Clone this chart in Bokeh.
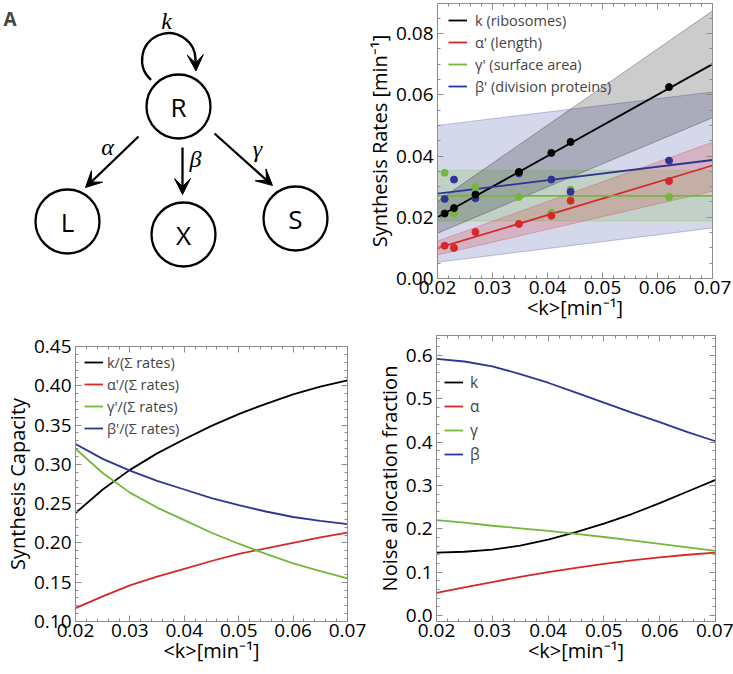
import numpy as np
from bokeh.plotting import figure
from bokeh.layouts import column, row
from bokeh.models import (Range1d, LinearAxis, FixedTicker, NumeralTickFormatter,
                          Legend, LegendItem, Label, Arrow, VeeHead, ColumnDataSource)
from bokeh.core.properties import value
from bokeh.embed import file_html
from bokeh.resources import INLINE

# ---------------- data ----------------
# Panel A: diagram nodes (x, y) and arrows
node_names = ["R", "L", "X", "S"]
node_x = [178, 67, 183, 295]
node_y = [226, 111, 98, 114]
node_r = 32
rate_names = ["k", "α", "β", "γ"]
rate_lab_x = [166, 107, 195, 257]
rate_lab_y = [312, 186, 174, 184]
arrow_x0 = [138, 182, 214]
arrow_y0 = [196, 185, 199]
arrow_x1 = [85, 182, 272]
arrow_y1 = [145, 138, 147]
loop_cx, loop_cy, loop_r = 168.3, 272.6, 26.7
loop_start_deg, loop_end_deg = 0.0, 228.4

# Panel B: synthesis rates
k_mean = [0.0213, 0.0230, 0.0269, 0.0348, 0.0407, 0.0442, 0.0621]
rate_k = [0.0212, 0.0230, 0.0274, 0.0348, 0.0410, 0.0446, 0.0625]
rate_alpha = [0.0107, 0.0100, 0.0152, 0.0178, 0.0205, 0.0254, 0.0318]
rate_gamma = [0.0345, 0.0212, 0.0299, 0.0266, 0.0214, 0.0290, 0.0266]
rate_beta = [0.0260, 0.0323, 0.0262, 0.0343, 0.0323, 0.0283, 0.0385]
fit_x = [0.02, 0.07]
fit_k = [0.0200, 0.0700]
fit_k_lo = [0.0148, 0.0525]
fit_k_hi = [0.0252, 0.0874]
fit_alpha = [0.0099, 0.0369]
fit_alpha_lo = [0.0077, 0.0285]
fit_alpha_hi = [0.0122, 0.0445]
fit_gamma = [0.0270, 0.0270]
fit_gamma_lo = [0.0188, 0.0188]
fit_gamma_hi = [0.0353, 0.0353]
fit_beta = [0.0277, 0.0387]
fit_beta_lo = [0.0053, 0.0165]
fit_beta_hi = [0.0500, 0.0609]

# Panels C and D: model curves
kx = [0.020, 0.025, 0.030, 0.035, 0.040, 0.045, 0.050, 0.055, 0.060, 0.065, 0.070]
cap_k = [0.238, 0.268, 0.293, 0.314, 0.332, 0.349, 0.364, 0.377, 0.389, 0.399, 0.407]
cap_alpha = [0.117, 0.132, 0.146, 0.157, 0.167, 0.177, 0.186, 0.193, 0.200, 0.207, 0.213]
cap_gamma = [0.320, 0.289, 0.264, 0.245, 0.229, 0.213, 0.199, 0.186, 0.174, 0.164, 0.155]
cap_beta = [0.326, 0.307, 0.292, 0.279, 0.268, 0.257, 0.248, 0.240, 0.233, 0.228, 0.224]
noise_k = [0.145, 0.147, 0.152, 0.161, 0.175, 0.192, 0.212, 0.234, 0.259, 0.286, 0.313]
noise_alpha = [0.052, 0.065, 0.077, 0.089, 0.100, 0.110, 0.119, 0.127, 0.134, 0.140, 0.145]
noise_gamma = [0.220, 0.214, 0.207, 0.201, 0.195, 0.188, 0.181, 0.173, 0.165, 0.157, 0.149]
noise_beta = [0.592, 0.586, 0.575, 0.557, 0.537, 0.514, 0.491, 0.468, 0.446, 0.423, 0.402]

x_major = [0.02, 0.03, 0.04, 0.05, 0.06, 0.07]
x_minor = [round(0.02 + 0.002 * i, 3) for i in range(26)]
b_y_major = [0.00, 0.02, 0.04, 0.06, 0.08]
b_y_minor = [round(0.005 * i, 3) for i in range(18)]
c_y_major = [0.10, 0.15, 0.20, 0.25, 0.30, 0.35, 0.40, 0.45]
c_y_minor = [round(0.10 + 0.01 * i, 2) for i in range(36)]
d_y_major = [0.0, 0.1, 0.2, 0.3, 0.4, 0.5, 0.6]
d_y_minor = [round(0.02 * i, 2) for i in range(33)]

# ---------------- style ----------------
FONT = "Open Sans"
BLACK = "#000000"
RED = "#d4282a"
GREEN = "#74b83a"
BLUE = "#2d3594"
FRAME = "#8c8c8c"
XLABEL = "<k>[min⁻¹]"


def style_axis(ax, ticker, fmt=None, label=None, show_labels=True, horizontal=True):
    ax.ticker = ticker
    ax.axis_line_color = FRAME
    ax.major_tick_line_color = FRAME
    ax.minor_tick_line_color = FRAME
    ax.major_tick_in = 6
    ax.major_tick_out = 0
    ax.minor_tick_in = 3
    ax.minor_tick_out = 0
    if show_labels:
        ax.formatter = fmt
        ax.major_label_text_font = FONT
        ax.major_label_text_font_size = "19px"
        ax.major_label_text_color = "#000000"
        ax.major_label_standoff = 2 if horizontal else 4
        ax.axis_label = label
        ax.axis_label_text_font = FONT
        ax.axis_label_text_font_size = "20px"
        ax.axis_label_text_font_style = "normal"
        ax.axis_label_text_color = "#000000"
        ax.axis_label_standoff = -3 if horizontal else 0
    else:
        ax.major_label_text_font_size = "1px"
        ax.major_label_text_color = None
        ax.major_label_text_alpha = 0
        ax.major_label_standoff = 0


def make_plot(width, height, yr, mb, ymaj, ymin, yfmt, ylabel):
    p = figure(width=width, height=height, x_range=Range1d(0.02, 0.07), y_range=Range1d(*yr),
               output_backend="svg", toolbar_location=None,
               min_border_left=mb[0], min_border_right=mb[1],
               min_border_top=mb[2], min_border_bottom=mb[3])
    p.frame_align = False
    p.grid.visible = False
    p.outline_line_color = FRAME
    p.background_fill_color = "white"
    p.border_fill_color = "white"
    xt = FixedTicker(ticks=x_major, minor_ticks=x_minor)
    yt = FixedTicker(ticks=ymaj, minor_ticks=ymin)
    style_axis(p.xaxis[0], xt, NumeralTickFormatter(format="0.00"), XLABEL, horizontal=True)
    style_axis(p.yaxis[0], yt, NumeralTickFormatter(format=yfmt), ylabel, horizontal=False)
    top = LinearAxis()
    style_axis(top, FixedTicker(ticks=x_major, minor_ticks=x_minor), show_labels=False)
    right = LinearAxis()
    style_axis(right, FixedTicker(ticks=ymaj, minor_ticks=ymin), show_labels=False)
    p.add_layout(top, "above")
    p.add_layout(right, "right")
    return p


def add_legend(p, items, loc, font_size, standoff):
    leg = Legend(items=items, location=loc, label_text_font=FONT,
                 label_text_font_size=font_size, glyph_width=19, glyph_height=20,
                 label_height=20, label_standoff=standoff, spacing=2, padding=0, margin=0,
                 border_line_color=None, background_fill_alpha=0)
    p.add_layout(leg)


def panel_letter(p, text, x, y):
    p.add_layout(Label(x=x, y=y, x_units="screen", y_units="screen", text=text,
                       text_font=FONT, text_font_style="bold", text_font_size="19px",
                       text_baseline="alphabetic", text_align="left"))


# ---------------- Panel A ----------------
pA = figure(width=340, height=332, x_range=Range1d(0, 340), y_range=Range1d(0, 332),
            output_backend="svg", toolbar_location=None, x_axis_type=None, y_axis_type=None,
            min_border_left=0, min_border_right=0, min_border_top=0, min_border_bottom=0)
pA.frame_align = False
pA.grid.visible = False
pA.outline_line_color = None

pA.arc(x=[loop_cx], y=[loop_cy], radius=loop_r,
       start_angle=np.deg2rad(loop_start_deg), end_angle=np.deg2rad(loop_end_deg),
       line_color="black", line_width=2.3)
loop_tip_x = loop_cx + loop_r * np.cos(np.deg2rad(loop_start_deg))
loop_tip_y = loop_cy + loop_r * np.sin(np.deg2rad(loop_start_deg))
pA.add_layout(Arrow(x_start=loop_tip_x, y_start=loop_tip_y + 1, x_end=loop_tip_x + 0.5,
                    y_end=loop_tip_y - 11, line_width=2.3,
                    end=VeeHead(size=16, fill_color="black", line_color="black", line_width=1)))

arrow_src = ColumnDataSource(dict(x0=arrow_x0, y0=arrow_y0, x1=arrow_x1, y1=arrow_y1))
pA.add_layout(Arrow(source=arrow_src, x_start="x0", y_start="y0", x_end="x1", y_end="y1",
                    line_width=2.3,
                    end=VeeHead(size=16, fill_color="black", line_color="black", line_width=1)))

pA.circle(x=node_x, y=node_y, radius=node_r, fill_color="white", line_color="black",
          line_width=2.3)
pA.text(x=node_x, y=node_y, text=node_names, text_font=value(FONT),
        text_font_size=value("26px"), text_align="center", text_baseline="middle")
pA.text(x=rate_lab_x, y=rate_lab_y, text=rate_names, text_font=value("Liberation Serif"),
        text_font_style="italic", text_font_size=value("24px"), text_align="center",
        text_baseline="middle")
pA.add_layout(Label(x=3, y=314, text="A", text_font=FONT, text_font_style="bold",
                    text_font_size="19px", text_baseline="alphabetic", text_align="left"))

# ---------------- Panel B ----------------
pB = make_plot(393, 332, (0.0, 0.0898), (97, 21, 3, 54), b_y_major, b_y_minor, "0.00",
               "Synthesis Rates [min⁻¹]")
bands = [(fit_beta_lo, fit_beta_hi, BLUE, 0.2), (fit_gamma_lo, fit_gamma_hi, GREEN, 0.2),
         (fit_alpha_lo, fit_alpha_hi, RED, 0.2), (fit_k_lo, fit_k_hi, "#000000", 0.2)]
for lo, hi, c, a in bands:
    pB.varea(x=fit_x, y1=lo, y2=hi, fill_color=c, fill_alpha=a)
    pB.line(fit_x, lo, line_color=c, line_alpha=0.35, line_width=0.8)
    pB.line(fit_x, hi, line_color=c, line_alpha=0.35, line_width=0.8)

lk = pB.line(fit_x, fit_k, line_color=BLACK, line_width=1.8)
la = pB.line(fit_x, fit_alpha, line_color=RED, line_width=1.8)
lg = pB.line(fit_x, fit_gamma, line_color=GREEN, line_width=1.8)
lb = pB.line(fit_x, fit_beta, line_color=BLUE, line_width=1.8)
for ys, c in [(rate_gamma, GREEN), (rate_beta, BLUE), (rate_alpha, RED), (rate_k, BLACK)]:
    pB.scatter(k_mean, ys, size=7, fill_color=c, line_color=c)
add_legend(pB, [LegendItem(label="k (ribosomes)", renderers=[lk]),
                LegendItem(label="α' (length)", renderers=[la]),
                LegendItem(label="γ' (surface area)", renderers=[lg]),
                LegendItem(label="β' (division proteins)", renderers=[lb])],
           (11, 182), "14.5px", 8)
panel_letter(pB, "B", -68, 260)

# ---------------- Panel C ----------------
pC = make_plot(372, 342, (0.10, 0.45), (69, 25, 14, 53), c_y_major, c_y_minor, "0.00",
               "Synthesis Capacity")
ck = pC.line(kx, cap_k, line_color=BLACK, line_width=1.8)
ca = pC.line(kx, cap_alpha, line_color=RED, line_width=1.8)
cg = pC.line(kx, cap_gamma, line_color=GREEN, line_width=1.8)
cb = pC.line(kx, cap_beta, line_color=BLUE, line_width=1.8)
add_legend(pC, [LegendItem(label="k/(Σ rates)", renderers=[ck]),
                LegendItem(label="α'/(Σ rates)", renderers=[ca]),
                LegendItem(label="γ'/(Σ rates)", renderers=[cg]),
                LegendItem(label="β'/(Σ rates)", renderers=[cb])],
           (9, 183), "14.5px", 4)
panel_letter(pC, "C", -67, 268)

# ---------------- Panel D ----------------
pD = make_plot(361, 342, (-0.014, 0.646), (59, 18, 3, 53), d_y_major, d_y_minor, "0.0",
               "Noise allocation fraction")
dk = pD.line(kx, noise_k, line_color=BLACK, line_width=1.8)
da = pD.line(kx, noise_alpha, line_color=RED, line_width=1.8)
dg = pD.line(kx, noise_gamma, line_color=GREEN, line_width=1.8)
db = pD.line(kx, noise_beta, line_color=BLUE, line_width=1.8)
add_legend(pD, [LegendItem(label="k", renderers=[dk]),
                LegendItem(label="α", renderers=[da]),
                LegendItem(label="γ", renderers=[dg]),
                LegendItem(label="β", renderers=[db])],
           (8, 156), "15.5px", 7)
panel_letter(pD, "D", -61, 271)

layout = column(row(pA, pB), row(pC, pD))
open("out.html", "w").write(file_html(layout, INLINE))
